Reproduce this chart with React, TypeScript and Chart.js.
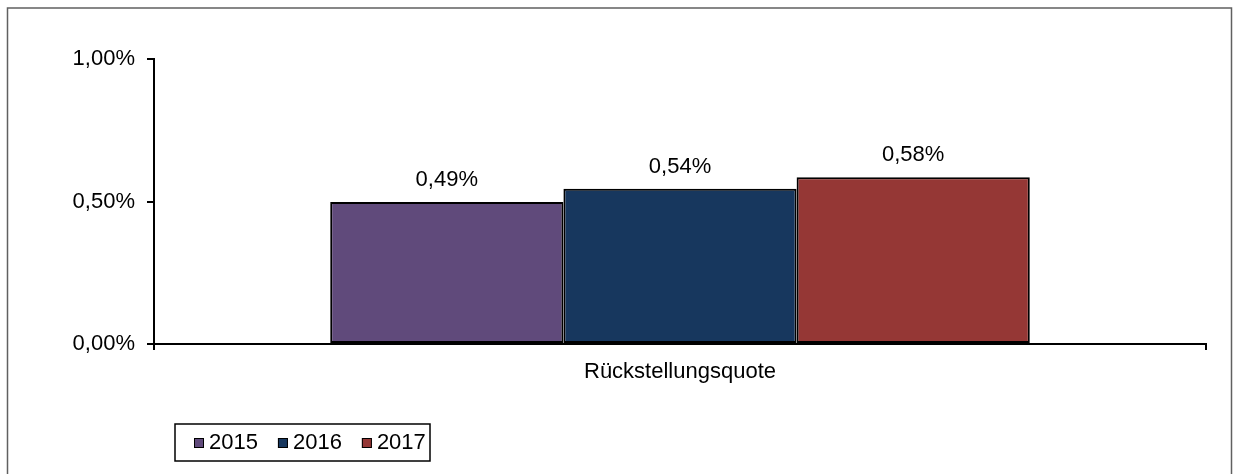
import React, { useEffect, useRef } from "react";
import { Chart, registerables } from "chart.js";

Chart.register(...registerables);

const categories = ["Rückstellungsquote"];
const seriesNames = ["2015", "2016", "2017"];
const values2015 = [0.498];
const values2016 = [0.545];
const values2017 = [0.585];
const valueLabels = [["0,49%"], ["0,54%"], ["0,58%"]];
const seriesColors = ["#604A7B", "#17375E", "#953735"];
const yTicks = [0, 0.5, 1];

const FONT = "'Liberation Sans', Arial, sans-serif";

const frameAndLabels = {
  id: "frameAndLabels",
  afterDatasetsDraw(chart: any) {
    const ctx = chart.ctx;
    ctx.save();
    // outer frame
    ctx.strokeStyle = "#606060";
    ctx.lineWidth = 1.5;
    ctx.beginPath();
    ctx.moveTo(7.5, 480);
    ctx.lineTo(7.5, 8);
    ctx.lineTo(1231.5, 8);
    ctx.lineTo(1231.5, 480);
    ctx.stroke();

    // value labels
    ctx.fillStyle = "#000";
    ctx.font = `22px ${FONT}`;
    ctx.textAlign = "center";
    ctx.textBaseline = "middle";
    chart.data.datasets.forEach((ds: any, di: number) => {
      const meta = chart.getDatasetMeta(di);
      meta.data.forEach((bar: any, i: number) => {
        ctx.fillText(valueLabels[di][i], bar.x, bar.y - 22);
      });
    });

    // legend
    const boxX = 175, boxY = 424, boxW = 255, boxH = 37;
    ctx.strokeStyle = "#000";
    ctx.lineWidth = 1.5;
    ctx.strokeRect(boxX, boxY, boxW, boxH);
    let x = 194;
    const cy = 443;
    ctx.textAlign = "left";
    ctx.textBaseline = "middle";
    seriesNames.forEach((name, i) => {
      ctx.fillStyle = seriesColors[i];
      ctx.fillRect(x, cy - 5, 10, 10);
      ctx.strokeStyle = "#000";
      ctx.lineWidth = 1;
      ctx.strokeRect(x + 0.5, cy - 4.5, 9, 9);
      ctx.fillStyle = "#000";
      ctx.fillText(name, x + 15, cy);
      x += 15 + ctx.measureText(name).width + 20;
    });
    ctx.restore();
  },
};

export default function App() {
  const ref = useRef<HTMLCanvasElement | null>(null);
  useEffect(() => {
    if (!ref.current) return;
    const allValues = [values2015, values2016, values2017];
    const chart = new Chart(ref.current, {
      type: "bar",
      data: {
        labels: categories,
        datasets: seriesNames.map((name, i) => ({
          label: name,
          data: allValues[i],
          backgroundColor: seriesColors[i],
          borderColor: "#000",
          borderWidth: 2,
          borderSkipped: false,
          categoryPercentage: 0.665,
          barPercentage: 1,
        })),
      },
      options: {
        animation: false,
        responsive: false,
        devicePixelRatio: 1,
        layout: { padding: { left: 0, top: 59, right: 31, bottom: 0 } },
        plugins: {
          legend: { display: false },
          tooltip: { enabled: false },
        },
        scales: {
          x: {
            afterFit(scale: any) {
              scale.height = 130;
            },
            grid: {
              display: true,
              drawOnChartArea: false,
              drawTicks: true,
              tickLength: 6,
              color: "#000",
              lineWidth: 2,
              offset: true,
            },
            border: { display: true, color: "#000", width: 2 },
            ticks: {
              color: "#000",
              font: { family: FONT, size: 22 },
              padding: 9,
            },
          },
          y: {
            min: 0,
            max: 1,
            afterFit(scale: any) {
              scale.width = 154;
            },
            afterBuildTicks(scale: any) {
              scale.ticks = yTicks.map((v) => ({ value: v }));
            },
            grid: {
              display: true,
              drawOnChartArea: false,
              drawTicks: true,
              tickLength: 7,
              color: "#000",
              lineWidth: 2,
            },
            border: { display: true, color: "#000", width: 2 },
            ticks: {
              color: "#000",
              font: { family: FONT, size: 22 },
              padding: 12,
              callback: (v: any) => Number(v).toFixed(2).replace(".", ",") + "%",
            },
          },
        },
      },
      plugins: [frameAndLabels],
    });
    return () => chart.destroy();
  }, []);
  return (
    <div style={{ position: "fixed", left: 0, top: 0, width: 1237, height: 474, background: "#fff" }}>
      <canvas ref={ref} width={1237} height={474} style={{ width: 1237, height: 474, display: "block" }} />
    </div>
  );
}
